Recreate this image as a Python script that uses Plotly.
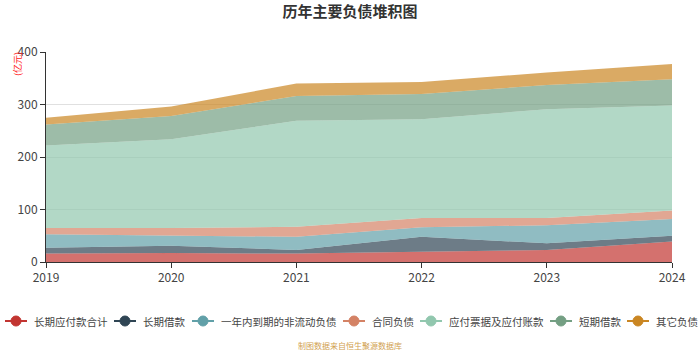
import plotly.graph_objects as go

years = [2019, 2020, 2021, 2022, 2023, 2024]
series_names = ["长期应付款合计", "长期借款", "一年内到期的非流动负债", "合同负债",
                "应付票据及应付账款", "短期借款", "其它负债"]
v_long_payable = [16, 17, 16, 19, 23, 39]
v_long_loan = [11, 14, 7, 29, 12.5, 11]
v_current_due = [26, 20, 25, 18, 34.5, 32]
v_contract = [12, 14, 19, 18, 14, 16]
v_notes_ap = [157, 169, 202, 188, 207, 200]
v_short_loan = [40, 44, 47, 48, 46, 50]
v_other = [13, 18, 24, 23, 24, 29]
series_values = [v_long_payable, v_long_loan, v_current_due, v_contract,
                 v_notes_ap, v_short_loan, v_other]
colors = ["#c23531", "#2f4554", "#61a0a8", "#d48265", "#91c7ae", "#749f83", "#ca8622"]

def rgba(h, a):
    h = h.lstrip("#")
    return "rgba(%d,%d,%d,%s)" % (int(h[0:2], 16), int(h[2:4], 16), int(h[4:6], 16), a)

fig = go.Figure()
for name, vals, c in zip(series_names, series_values, colors):
    fig.add_trace(go.Scatter(
        x=years, y=vals, name=name, mode="lines", stackgroup="one",
        line=dict(width=0, color=c), fillcolor=rgba(c, 0.7), showlegend=False))

FONT = "Noto Sans CJK SC, Microsoft YaHei, sans-serif"
L, R, T, B = 46, 28, 52, 88
W, H = 700, 350
pw, ph = W - L - R, H - T - B

def px_x(p):
    return (p - L) / pw

def px_y(p):
    return (H - B - p) / ph

# manual legend
legend_line_x = [5, 114, 192, 343, 420, 550, 627]
legend_y = 321
shapes = []
annotations = []
for name, c, lx in zip(series_names, colors, legend_line_x):
    shapes.append(dict(type="line", xref="paper", yref="paper",
                       x0=px_x(lx), x1=px_x(lx + 22), y0=px_y(legend_y), y1=px_y(legend_y),
                       line=dict(color=c, width=2)))
    shapes.append(dict(type="circle", xref="paper", yref="paper",
                       xsizemode="pixel", ysizemode="pixel",
                       xanchor=px_x(lx + 11), yanchor=px_y(legend_y),
                       x0=-5, x1=5, y0=-5, y1=5,
                       fillcolor=c, line=dict(color=c, width=1)))
    annotations.append(dict(text=name, xref="paper", yref="paper",
                            x=px_x(lx + 27), y=px_y(legend_y),
                            xanchor="left", yanchor="middle", showarrow=False,
                            font=dict(size=10.5, color="#444", family=FONT)))

annotations.append(dict(text="制图数据来自恒生聚源数据库", xref="paper", yref="paper",
                        x=px_x(350), y=px_y(345), xanchor="center", yanchor="middle",
                        showarrow=False, font=dict(size=8, color="#d1a14f", family=FONT)))
annotations.append(dict(text="(亿元)", xref="paper", yref="paper",
                        x=px_x(17), y=px_y(64), xanchor="center", yanchor="middle",
                        textangle=-90, showarrow=False,
                        font=dict(size=9, color="#ff2020", family=FONT)))

fig.update_layout(
    width=W, height=H,
    margin=dict(l=L, r=R, t=T, b=B),
    paper_bgcolor="white", plot_bgcolor="white",
    title=dict(text="<b>历年主要负债堆积图</b>", x=0.5, xanchor="center",
               y=1 - 12 / H, yanchor="middle",
               font=dict(size=15, color="#333", family=FONT)),
    xaxis=dict(range=[2019, 2024], tickmode="array", tickvals=years,
               ticktext=[str(y) for y in years],
               showgrid=False, zeroline=False, showline=True, linecolor="#333", linewidth=1,
               ticks="outside", ticklen=5, tickcolor="#333",
               tickfont=dict(size=12, color="#444", family=FONT)),
    yaxis=dict(range=[0, 400], tickvals=[0, 100, 200, 300, 400],
               showgrid=True, gridcolor="#e0e0e0", zeroline=False,
               showline=True, linecolor="#333", linewidth=1,
               ticks="outside", ticklen=5, tickcolor="#333",
               tickfont=dict(size=12, color="#444", family=FONT)),
    shapes=shapes, annotations=annotations, showlegend=False,
    hovermode=False,
)

fig.write_html("out.html")
